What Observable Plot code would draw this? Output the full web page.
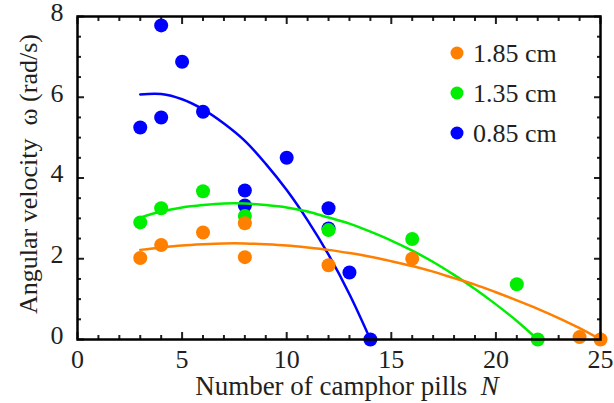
<!DOCTYPE html>
<html><head><meta charset="utf-8">
<script src="https://cdn.jsdelivr.net/npm/d3@7"></script>
<script src="https://cdn.jsdelivr.net/npm/@observablehq/plot@0.6"></script>
<style>
body{margin:0;background:#fff}
#chart{position:relative;width:614px;height:403px}
#chart svg text{font-family:"Liberation Serif","Times New Roman",serif}
</style>
</head><body><div id="chart"></div>
<script>
// ---- data ----
const seriesNames = ["1.85 cm", "1.35 cm", "0.85 cm"];
const seriesColors = ["#ff7f00", "#00ee00", "#0000ff"];

// measured points (N, omega)
const nOrange = [3, 4, 6, 8, 8, 12, 16, 24, 25];
const wOrange = [2.02, 2.34, 2.65, 2.88, 2.04, 1.84, 2.0, 0.06, 0];
const nGreen = [3, 4, 6, 8, 12, 16, 21, 22];
const wGreen = [2.9, 3.25, 3.67, 3.06, 2.71, 2.49, 1.37, 0];
const nBlue = [3, 4, 4, 5, 6, 8, 8, 10, 12, 12, 13, 14];
const wBlue = [5.25, 7.78, 5.5, 6.88, 5.64, 3.69, 3.32, 4.5, 3.25, 2.75, 1.66, 0];

// fitted curves
const fitNOrange = [3,4,5,6,7,8,9,10,11,12,13,14,15,16,17,18,19,20,21,22,23,24,25];
const fitWOrange = [2.22,2.28,2.33,2.36,2.38,2.38,2.36,2.33,2.28,2.22,2.14,2.05,1.94,1.82,1.68,1.52,1.36,1.17,0.97,0.76,0.53,0.28,0];
const fitNGreen = [3,4,5,6,7,8,9,10,11,12,13,14,15,16,17,18,19,20,21,22];
const fitWGreen = [3.02,3.17,3.27,3.33,3.37,3.37,3.33,3.27,3.17,3.02,2.87,2.67,2.45,2.2,1.92,1.6,1.25,0.87,0.46,0];
const fitNBlue = [3,4,5,6,7,8,9,10,11,12,13,14];
const fitWBlue = [6.07,6.08,5.95,5.7,5.35,4.92,4.35,3.7,2.95,2.1,1.12,0];

// ticks
const xMajor = [0, 5, 10, 15, 20, 25];
const xMinor = [1,2,3,4,6,7,8,9,11,12,13,14,16,17,18,19,21,22,23,24];
const yMajor = [0, 2, 4, 6, 8];
const yMinor = [0.5,1,1.5,2.5,3,3.5,4.5,5,5.5,6.5,7,7.5];

const xLabel = "Number of camphor pills";
const xLabelVar = "N";
const yLabel = "Angular velocity  ω (rad/s)";

// ---- build ----
const zip = (xs, ys) => xs.map((x, i) => ({x, y: ys[i]}));
const ptsO = zip(nOrange, wOrange), ptsG = zip(nGreen, wGreen), ptsB = zip(nBlue, wBlue);
const fitO = zip(fitNOrange, fitWOrange), fitG = zip(fitNGreen, fitWGreen), fitB = zip(fitNBlue, fitWBlue);

const font = "Liberation Serif, Times New Roman, serif";
const textColor = "#231f20";
const W = 614, H = 403, mL = 77, mR = 14, mT = 16, mB = 64;

const tickAxes = [];
for (const a of ["bottom", "top"]) {
  tickAxes.push(Plot.axisX(xMajor, {anchor: a, tickSize: -7, strokeWidth: 2, tickFormat: () => "", label: null}));
  tickAxes.push(Plot.axisX(xMinor, {anchor: a, tickSize: -4, strokeWidth: 2, tickFormat: () => "", label: null}));
}
for (const a of ["left", "right"]) {
  tickAxes.push(Plot.axisY(yMajor, {anchor: a, tickSize: -7, strokeWidth: 2, tickFormat: () => "", label: null}));
  tickAxes.push(Plot.axisY(yMinor, {anchor: a, tickSize: -4, strokeWidth: 2, tickFormat: () => "", label: null}));
}

const plot = Plot.plot({
  width: W, height: H,
  marginLeft: mL, marginRight: mR, marginTop: mT, marginBottom: mB,
  style: {fontFamily: font, background: "#fff", color: textColor},
  x: {domain: [0, 25]},
  y: {domain: [0, 8]},
  marks: [
    ...tickAxes,
    Plot.axisX(xMajor, {anchor: "bottom", tickSize: 0, tickPadding: 10, fontSize: 26, fontFamily: font, fill: textColor, label: null}),
    Plot.axisY(yMajor, {anchor: "left", tickSize: 0, tickPadding: 14, fontSize: 26, fontFamily: font, fill: textColor, dy: -4, label: null}),
    Plot.line(fitB, {x: "x", y: "y", stroke: seriesColors[2], strokeWidth: 2.5, curve: "catmull-rom"}),
    Plot.dot(ptsB, {x: "x", y: "y", r: 7, fill: seriesColors[2]}),
    Plot.line(fitG, {x: "x", y: "y", stroke: seriesColors[1], strokeWidth: 2.5, curve: "catmull-rom"}),
    Plot.dot(ptsG, {x: "x", y: "y", r: 7, fill: seriesColors[1]}),
    Plot.line(fitO, {x: "x", y: "y", stroke: seriesColors[0], strokeWidth: 2.5, curve: "catmull-rom"}),
    Plot.dot(ptsO, {x: "x", y: "y", r: 7, fill: seriesColors[0]}),
    Plot.frame({stroke: "#000", strokeWidth: 2.5})
  ]
});
document.getElementById("chart").appendChild(plot);

const svg = d3.select(plot);
// x axis label
const xt = svg.append("text")
  .attr("x", 347).attr("y", 395).attr("text-anchor", "middle")
  .attr("font-size", 27).attr("fill", textColor);
xt.append("tspan").text(xLabel + "\u00a0\u00a0");
xt.append("tspan").attr("font-style", "italic").text(xLabelVar);
// y axis label
svg.append("text")
  .attr("transform", "translate(37,174) rotate(-90)")
  .attr("text-anchor", "middle")
  .attr("font-size", 26).attr("fill", textColor)
  .text(yLabel.replace(/  /g, "\u00a0 "));
// legend
const lg = svg.append("g");
seriesNames.forEach((name, i) => {
  const cy = 53 + i * 40;
  lg.append("circle").attr("cx", 457).attr("cy", cy).attr("r", 6.5).attr("fill", seriesColors[i]);
  lg.append("text").attr("x", 473).attr("y", cy + 9).attr("text-anchor", "start")
    .attr("font-size", 26).attr("fill", textColor).text(name);
});
</script>
</body></html>
